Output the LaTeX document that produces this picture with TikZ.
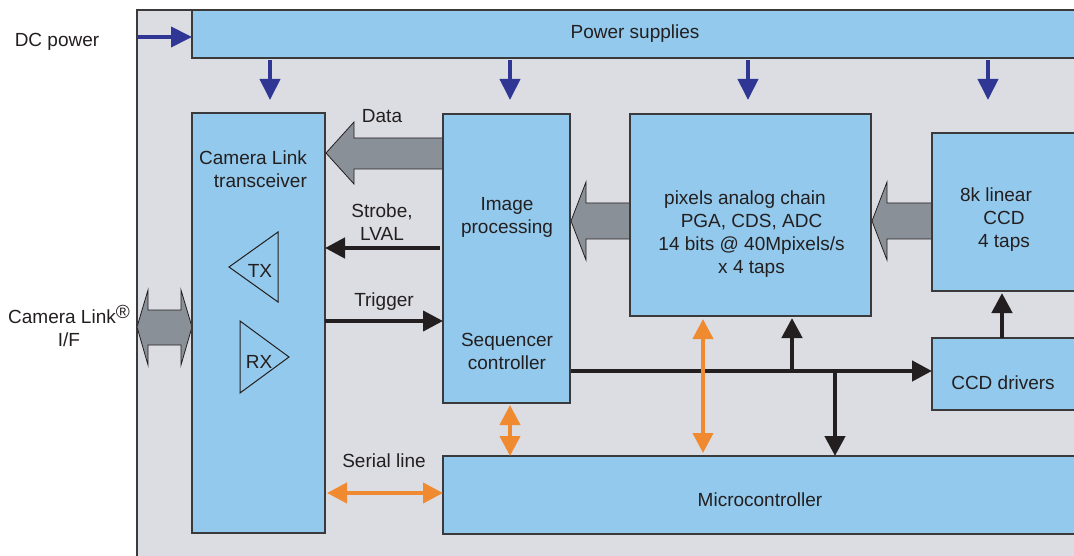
\documentclass[tikz,border=0pt]{standalone}
\usepackage{fontspec}
\setmainfont{Liberation Sans}
\usetikzlibrary{arrows.meta,calc}
\definecolor{bgg}{HTML}{DCDDE2}
\definecolor{boxb}{HTML}{93C9EC}
\definecolor{edgec}{HTML}{3A3A3C}
\definecolor{txtc}{HTML}{231F20}
\definecolor{navy}{HTML}{2F3694}
\definecolor{orng}{HTML}{F08A30}
\definecolor{garr}{HTML}{8A9097}
\begin{document}
\begin{tikzpicture}[x=1pt,y=-1pt,
  box/.style={draw=edgec, fill=boxb, line width=1.2pt, inner sep=0pt, outer sep=0pt, anchor=north west},
  txt/.style={font=\fontsize{19}{23}\selectfont, text=txtc, inner sep=0pt, align=center},
  txt1/.style={txt, text height=13.7pt, text depth=0pt},
  bluearr/.style={draw=navy, line width=4pt, -{Triangle[length=21pt,width=20pt]}},
  blkarr/.style={draw=txtc, line width=4.5pt, -{Triangle[length=20pt,width=20pt]}},
  orarr/.style={draw=orng, line width=4pt, {Triangle[length=20pt,width=20pt]}-{Triangle[length=20pt,width=20pt]}},
  bigarr/.style={fill=garr, draw=txtc, line width=0.8pt, line join=miter},
  tri/.style={draw=txtc, line width=1pt, line join=miter}
]
\useasboundingbox (0,0) rectangle (1074,556);
\clip (0,0) rectangle (1074,556);
% background panel
\fill[bgg] (137,10) rectangle (1100,600);
\draw[edgec, line width=1.5pt] (137,600) -- (137,10) -- (1100,10);

% big gray arrows
\draw[bigarr] (137,327) -- (148,290) -- (148,310) -- (181,310) -- (181,290) -- (192,327)
  -- (181,365) -- (181,345) -- (148,345) -- (148,365) -- cycle;
\draw[bigarr] (443,138) -- (354,138) -- (354,122) -- (326,153) -- (354,184) -- (354,169) -- (443,169) -- cycle;
\draw[bigarr] (630,203) -- (586,203) -- (586,182) -- (571,221) -- (586,260) -- (586,239) -- (630,239) -- cycle;
\draw[bigarr] (932,203) -- (887,203) -- (887,182) -- (872,221) -- (887,260) -- (887,239) -- (932,239) -- cycle;

% boxes
\node[box, minimum width=900pt, minimum height=48pt] (ps) at (192,10) {};
\node[box, minimum width=133pt, minimum height=420pt] (clt) at (192,113) {};
\node[box, minimum width=127pt, minimum height=289pt] (ip) at (443,114) {};
\node[box, minimum width=241pt, minimum height=202pt] (pac) at (630,114) {};
\node[box, minimum width=160pt, minimum height=158pt] (ccd) at (932,133) {};
\node[box, minimum width=160pt, minimum height=72pt] (drv) at (932,338) {};
\node[box, minimum width=650pt, minimum height=78pt] (mc) at (443,456) {};

% TX / RX triangles
\draw[tri] (229,267) -- (278,232) -- (278,302) -- cycle;
\draw[tri] (240,321) -- (289,357) -- (240,393) -- cycle;

% power arrows
\coordinate (dcin) at (137,37);
\draw[bluearr] (dcin) -- (dcin -| ps.west);
\coordinate (a1) at (270,0);
\coordinate (a2) at (510,0);
\coordinate (a3) at (748,0);
\coordinate (a4) at (988,0);
\draw[bluearr] ($(ps.south -| a1)+(0,2)$) -- ($(clt.north -| a1)+(0,-13)$);
\draw[bluearr] ($(ps.south -| a2)+(0,2)$) -- ($(ip.north -| a2)+(0,-14)$);
\draw[bluearr] ($(ps.south -| a3)+(0,2)$) -- ($(pac.north -| a3)+(0,-14)$);
\draw[bluearr] ($(ps.south -| a4)+(0,2)$) -- ($(ccd.north -| a4)+(0,-33)$);

% black signal arrows
\coordinate (sy) at (0,248);
\coordinate (ty) at (0,321);
\coordinate (by) at (0,371);
\coordinate (bx1) at (792,0);
\coordinate (bx2) at (835,0);
\coordinate (cx) at (1002,0);
\draw[blkarr] ($(ip.west |- sy)+(-3,0)$) -- (clt.east |- sy);
\draw[blkarr, line width=4pt] (clt.east |- ty) -- (ip.west |- ty);
\draw[blkarr] ($(ip.east |- by)+(1,0)$) -- (drv.west |- by);
\draw[blkarr] ($(bx1 |- by)+(0,2)$) -- ($(bx1 |- pac.south)+(0,2)$);
\draw[blkarr] ($(bx2 |- by)+(0,-2)$) -- (bx2 |- mc.north);
\draw[blkarr] (cx |- drv.north) -- ($(cx |- ccd.south)+(0,2)$);

% orange arrows
\coordinate (ox) at (703,0);
\coordinate (sx) at (510,0);
\coordinate (sly) at (0,493);
\draw[orarr] ($(ox |- pac.south)+(0,3)$) -- ($(ox |- mc.north)+(0,-3)$);
\draw[orarr] ($(sx |- ip.south)+(0,2)$) -- (sx |- mc.north);
\draw[orarr] ($(clt.east |- sly)+(2,0)$) -- (mc.west |- sly);

% texts
\node[txt1] (tps) at (635,32) {Power supplies};
\node[txt1] (tdc) at (57,40) {DC power};
\node[txt, align=right] (tcl) at (253,169.5) {Camera Link\\transceiver};
\node[txt] (tif) at (69,328) {Camera Link\smash{\raisebox{5pt}{®}}\\I/F};
\node[txt1] (ttx) at (260,271) {TX};
\node[txt1] (trx) at (259,362) {RX};
\node[txt1] (tdata) at (382,116) {Data};
\node[txt] (tstrobe) at (382,222.5) {Strobe,\\LVAL};
\node[txt1] (ttrig) at (384,300) {Trigger};
\node[txt] (timg) at (507,217.5) {Image\\processing};
\node[txt] (tseq) at (507,351) {Sequencer\\controller};
\node[txt] (tpac) at (751.5,234.5) {pixels analog chain\hbox to 13pt{}\\PGA, CDS, ADC\\14 bits @ 40Mpixels/s\\x 4 taps};
\node[txt] (tccd) at (1004,219.5) {8k linear\hbox to 16pt{}\\CCD\\4 taps};
\node[txt1] (tdrv) at (1003,383) {CCD drivers};
\node[txt1] (tmc) at (760,500) {Microcontroller};
\node[txt1] (tser) at (384,461) {Serial line};
\end{tikzpicture}
\end{document}
